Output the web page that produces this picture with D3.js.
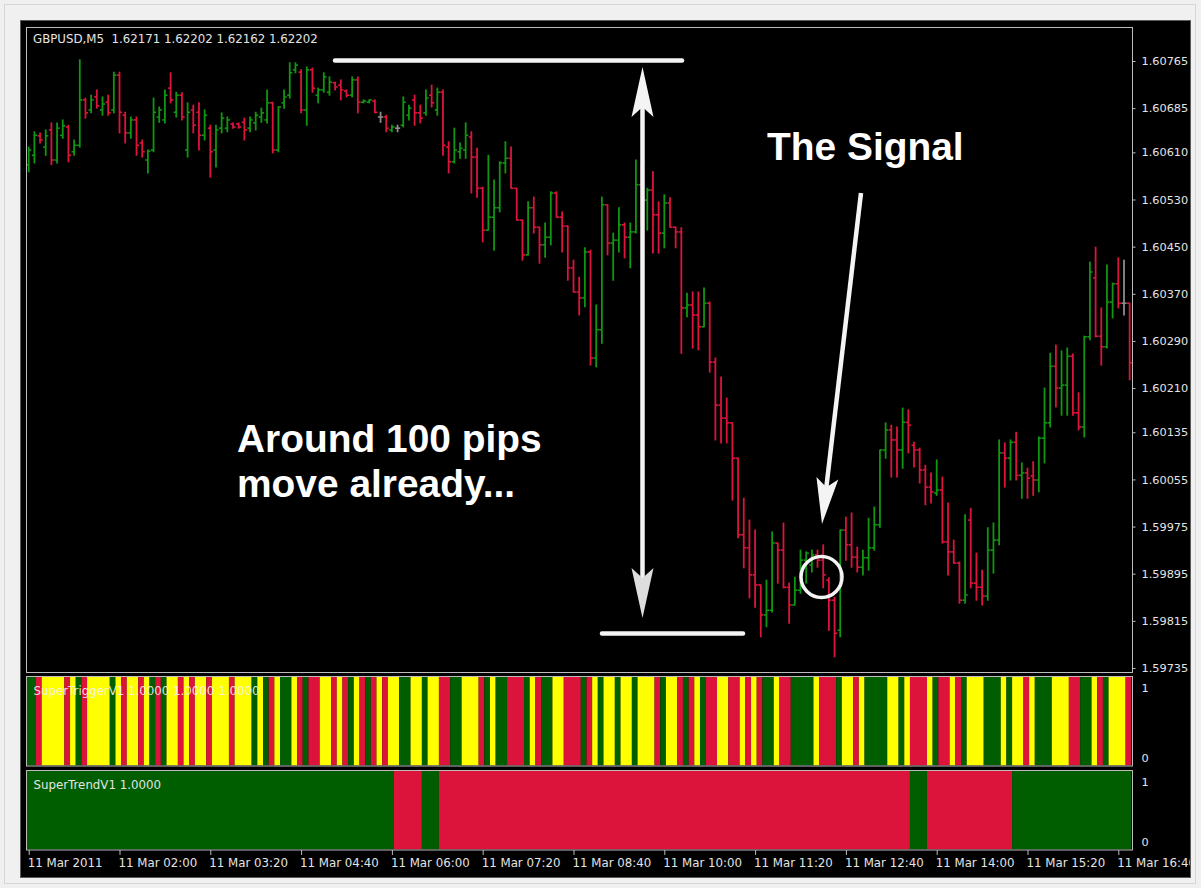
<!DOCTYPE html>
<html><head><meta charset="utf-8">
<script src="https://cdn.jsdelivr.net/npm/d3@7"></script>
<style>html,body{margin:0;padding:0;background:#f0f0f0;}svg{display:block;}</style>
</head><body>
<svg id="c" width="1201" height="888"></svg>
<script>
// ---------------- DATA ----------------
const symbolLabel = "GBPUSD,M5  1.62171 1.62202 1.62162 1.62202";
const triggerLabel = "SuperTriggerV1 1.0000 1.0000 1.0000";
const trendLabel = "SuperTrendV1 1.0000";
const firstBarTime = "2011-03-11T00:40:00";
const barMinutes = 5;

const openP = [
1.60589,1.60605,1.60638,1.60619,1.60648,1.60597,1.60639,1.60653,1.60611,1.60622,
1.60699,1.60682,1.60704,1.60682,1.60695,1.60682,1.60741,1.60673,1.60643,1.60665,
1.60626,1.60597,1.60614,1.60670,1.60665,1.60719,1.60678,1.60707,1.60614,1.60682,
1.60678,1.60639,1.60651,1.60614,1.60651,1.60651,1.60658,1.60658,1.60661,1.60651,
1.60660,1.60670,1.60665,1.60694,1.60614,1.60694,1.60707,1.60750,1.60746,1.60682,
1.60750,1.60707,1.60716,1.60712,1.60728,1.60724,1.60714,1.60707,1.60733,1.60695,
1.60695,1.60697,1.60670,1.60670,1.60648,1.60651,1.60656,1.60673,1.60699,1.60677,
1.60677,1.60707,1.60682,1.60712,1.60619,1.60594,1.60611,1.60614,1.60636,1.60602,
1.60549,1.60478,1.60500,1.60516,1.60592,1.60600,1.60549,1.60495,1.60436,1.60516,
1.60483,1.60453,1.60466,1.60541,1.60500,1.60485,1.60414,1.60373,1.60363,1.60441,
1.60261,1.60309,1.60521,1.60456,1.60461,1.60487,1.60466,1.60475,1.60555,1.60529,
1.60546,1.60504,1.60473,1.60524,1.60483,1.60475,1.60346,1.60351,1.60334,1.60314,
1.60354,1.60254,1.60181,1.60159,1.60151,1.60091,1.59961,1.59939,1.59893,1.59876,
1.59825,1.59833,1.59947,1.59935,1.59872,1.59842,1.59867,1.59918,1.59910,1.59927,
1.59918,1.59884,1.59850,1.59799,1.59969,1.59944,1.59923,1.59906,1.59922,1.59939,
1.59978,1.60105,1.60139,1.60122,1.60105,1.60152,1.60113,1.60105,1.60071,1.60042,
1.60032,1.60037,1.59949,1.59932,1.59913,1.59850,1.59986,1.59879,1.59872,1.59857,
1.59935,1.59952,1.60100,1.60091,1.60118,1.60062,1.60066,1.60061,1.60054,1.60125,
1.60151,1.60247,1.60210,1.60215,1.60264,1.60168,1.60144,1.60297,1.60397,1.60298,
1.60280,1.60356,1.60387,1.60354,1.60354];

const highP = [
1.60619,1.60645,1.60643,1.60648,1.60660,1.60660,1.60665,1.60656,1.60631,1.60767,
1.60702,1.60707,1.60716,1.60704,1.60707,1.60746,1.60746,1.60678,1.60670,1.60670,
1.60631,1.60614,1.60702,1.60687,1.60716,1.60745,1.60712,1.60711,1.60694,1.60690,
1.60694,1.60682,1.60656,1.60656,1.60677,1.60670,1.60660,1.60660,1.60668,1.60670,
1.60678,1.60685,1.60716,1.60695,1.60687,1.60716,1.60762,1.60762,1.60750,1.60755,
1.60753,1.60719,1.60745,1.60738,1.60729,1.60733,1.60716,1.60738,1.60738,1.60699,
1.60699,1.60699,1.60678,1.60673,1.60656,1.60656,1.60704,1.60690,1.60707,1.60690,
1.60716,1.60724,1.60719,1.60716,1.60628,1.60651,1.60626,1.60660,1.60645,1.60617,
1.60551,1.60605,1.60563,1.60594,1.60628,1.60619,1.60549,1.60495,1.60526,1.60534,
1.60483,1.60490,1.60543,1.60543,1.60509,1.60485,1.60427,1.60398,1.60448,1.60444,
1.60351,1.60534,1.60521,1.60473,1.60516,1.60490,1.60490,1.60597,1.60589,1.60549,
1.60577,1.60526,1.60538,1.60533,1.60483,1.60482,1.60371,1.60373,1.60373,1.60380,
1.60356,1.60261,1.60229,1.60193,1.60151,1.60091,1.60023,1.59986,1.59969,1.59876,
1.59884,1.59966,1.59947,1.59981,1.59879,1.59889,1.59935,1.59932,1.59935,1.59935,
1.59944,1.59888,1.59855,1.59969,1.59991,1.59998,1.59940,1.59935,1.59989,1.60008,
1.60105,1.60151,1.60147,1.60144,1.60176,1.60173,1.60118,1.60108,1.60079,1.60066,
1.60088,1.60059,1.60015,1.59952,1.59915,1.59995,1.60006,1.59930,1.59901,1.59973,
1.59981,1.60122,1.60117,1.60122,1.60135,1.60083,1.60074,1.60085,1.60127,1.60210,
1.60269,1.60283,1.60273,1.60278,1.60268,1.60202,1.60298,1.60424,1.60449,1.60346,
1.60419,1.60388,1.60431,1.60427,1.60354];

const lowP = [
1.60577,1.60592,1.60626,1.60605,1.60589,1.60592,1.60634,1.60594,1.60605,1.60619,
1.60668,1.60677,1.60685,1.60673,1.60673,1.60677,1.60643,1.60626,1.60634,1.60605,
1.60602,1.60575,1.60611,1.60661,1.60660,1.60694,1.60670,1.60665,1.60602,1.60643,
1.60614,1.60631,1.60568,1.60585,1.60643,1.60645,1.60651,1.60651,1.60631,1.60645,
1.60648,1.60661,1.60660,1.60609,1.60611,1.60685,1.60702,1.60745,1.60677,1.60656,
1.60712,1.60694,1.60712,1.60707,1.60716,1.60699,1.60704,1.60704,1.60677,1.60694,
1.60694,1.60677,1.60661,1.60645,1.60645,1.60645,1.60653,1.60665,1.60656,1.60660,
1.60673,1.60687,1.60673,1.60605,1.60575,1.60592,1.60600,1.60600,1.60541,1.60534,
1.60458,1.60478,1.60444,1.60509,1.60575,1.60549,1.60495,1.60427,1.60436,1.60473,
1.60422,1.60432,1.60453,1.60500,1.60441,1.60393,1.60373,1.60334,1.60348,1.60249,
1.60246,1.60286,1.60436,1.60393,1.60441,1.60431,1.60414,1.60473,1.60487,1.60478,
1.60439,1.60439,1.60448,1.60483,1.60448,1.60269,1.60331,1.60278,1.60275,1.60314,
1.60237,1.60122,1.60117,1.60117,1.60020,1.59956,1.59905,1.59854,1.59838,1.59788,
1.59805,1.59830,1.59879,1.59871,1.59811,1.59842,1.59862,1.59879,1.59898,1.59906,
1.59871,1.59799,1.59754,1.59788,1.59918,1.59906,1.59898,1.59893,1.59901,1.59935,
1.59974,1.60091,1.60059,1.60059,1.60074,1.60100,1.60076,1.60049,1.60012,1.60015,
1.60028,1.59947,1.59893,1.59913,1.59845,1.59845,1.59871,1.59850,1.59842,1.59850,
1.59896,1.59944,1.60042,1.60054,1.60054,1.60023,1.60023,1.60028,1.60034,1.60083,
1.60144,1.60178,1.60164,1.60164,1.60164,1.60139,1.60127,1.60292,1.60297,1.60249,
1.60278,1.60329,1.60346,1.60334,1.60224];

const closeP = [
1.60614,1.60639,1.60631,1.60638,1.60597,1.60651,1.60655,1.60605,1.60622,1.60699,
1.60677,1.60699,1.60689,1.60692,1.60677,1.60741,1.60678,1.60643,1.60665,1.60622,
1.60611,1.60612,1.60678,1.60682,1.60707,1.60699,1.60707,1.60670,1.60678,1.60656,
1.60639,1.60673,1.60611,1.60648,1.60668,1.60665,1.60653,1.60653,1.60648,1.60665,
1.60673,1.60677,1.60694,1.60614,1.60687,1.60704,1.60745,1.60758,1.60682,1.60750,
1.60719,1.60716,1.60738,1.60729,1.60721,1.60716,1.60707,1.60733,1.60695,1.60697,
1.60699,1.60678,1.60670,1.60651,1.60653,1.60651,1.60695,1.60685,1.60677,1.60668,
1.60702,1.60694,1.60712,1.60622,1.60594,1.60614,1.60617,1.60639,1.60602,1.60549,
1.60478,1.60500,1.60516,1.60592,1.60600,1.60549,1.60495,1.60436,1.60516,1.60483,
1.60453,1.60466,1.60541,1.60500,1.60485,1.60414,1.60373,1.60363,1.60441,1.60261,
1.60309,1.60521,1.60456,1.60461,1.60487,1.60466,1.60475,1.60555,1.60529,1.60546,
1.60504,1.60473,1.60524,1.60483,1.60475,1.60346,1.60351,1.60334,1.60314,1.60354,
1.60254,1.60181,1.60159,1.60151,1.60091,1.59961,1.59939,1.59893,1.59876,1.59825,
1.59833,1.59947,1.59935,1.59872,1.59842,1.59867,1.59918,1.59930,1.59927,1.59918,
1.59893,1.59850,1.59794,1.59969,1.59944,1.59923,1.59906,1.59922,1.59939,1.59978,
1.60105,1.60139,1.60122,1.60105,1.60152,1.60147,1.60105,1.60071,1.60042,1.60034,
1.60037,1.59949,1.59932,1.59913,1.59850,1.59859,1.59879,1.59872,1.59857,1.59935,
1.59952,1.60100,1.60091,1.60118,1.60062,1.60066,1.60057,1.60054,1.60125,1.60151,
1.60247,1.60210,1.60215,1.60264,1.60168,1.60144,1.60297,1.60407,1.60298,1.60280,
1.60356,1.60387,1.60354,1.60354,1.60253];

// SuperTrigger state per bar: G = green, Y = yellow, R = red
const triggerState = [
"G","G","R","Y","Y","Y","Y","R","Y","G", "R","Y","Y","Y","Y","G","Y","R","Y","Y",
"R","Y","G","R","G","Y","Y","R","Y","R", "Y","Y","R","Y","Y","Y","R","Y","Y","Y",
"G","Y","G","R","Y","G","G","Y","R","G", "R","R","Y","Y","R","Y","R","G","Y","R",
"G","R","Y","R","Y","Y","G","G","Y","Y", "G","Y","Y","R","R","G","G","Y","Y","Y",
"R","G","Y","G","G","R","R","R","G","Y", "R","G","G","Y","Y","R","R","R","G","R",
"Y","G","Y","Y","G","Y","Y","G","Y","Y", "Y","R","G","Y","Y","R","G","R","Y","G",
"R","R","Y","Y","R","R","Y","R","Y","R", "G","G","Y","R","R","G","G","G","G","Y",
"R","R","R","G","Y","Y","R","Y","G","G", "G","G","Y","Y","G","Y","R","R","R","Y",
"G","R","R","Y","R","G","Y","Y","Y","G", "G","G","Y","G","Y","Y","R","Y","G","G",
"G","Y","Y","Y","R","R","G","G","Y","R", "G","Y","Y","Y","R"];

// SuperTrend runs: first bar index of each run and its state
const trendRunStart = [0, 65, 70, 73, 156, 159, 174];
const trendRunState = ["G","R","G","R","G","R","G"];

const priceTicks = [1.60765,1.60685,1.60610,1.60530,1.60450,1.60370,1.60290,1.60210,1.60135,1.60055,1.59975,1.59895,1.59815,1.59735];
const timeLabels = ["11 Mar 2011","11 Mar 02:00","11 Mar 03:20","11 Mar 04:40","11 Mar 06:00","11 Mar 07:20","11 Mar 08:40","11 Mar 10:00","11 Mar 11:20","11 Mar 12:40","11 Mar 14:00","11 Mar 15:20","11 Mar 16:40"];
const labelEveryBars = 16;

// ---------------- DRAW ----------------
const svg = d3.select("#c");
const upCol = "#119611", dnCol = "#dc143c", dojiCol = "#8c8c8c";
const stCol = {G:"#005e00", Y:"#ffff00", R:"#dc143c"};
const frameCol = "#bcbcbc";
const txtCol = "#e4e4e4";
const FONT = "DejaVu Sans, Verdana, sans-serif";
const FS = "11.8px";

const PL = 26.5, PR = 1132.5;
const main = {t:27.5, b:672.5};
const p1 = {t:676.5, b:766};
const p2 = {t:770.5, b:850};

// page + window frame
svg.append("rect").attr("x",4.5).attr("y",4.5).attr("width",1191).attr("height",879)
  .attr("fill","#f0f0f0").attr("stroke","#d6d6d6");
svg.append("rect").attr("x",20.5).attr("y",20.5).attr("width",1170).attr("height",857)
  .attr("fill","#000").attr("stroke","#5a5a5a");

const n = openP.length;
const t0 = new Date(firstBarTime);
const barTime = d3.range(n).map(i => new Date(t0.getTime() + i*barMinutes*60000));
const x = d3.scaleTime()
  .domain([t0, new Date(t0.getTime() + 12*labelEveryBars*barMinutes*60000)])
  .range([28.7, 1118.3]);
const step = x(barTime[1]) - x(barTime[0]);
const y = d3.scaleLinear().domain([1.59735, 1.60765]).range([668, 61]);

const defs = svg.append("defs");
[["cm",main],["c1",p1],["c2",p2]].forEach(([id,p])=>{
  defs.append("clipPath").attr("id",id).append("rect")
    .attr("x",PL+0.5).attr("y",p.t+0.5).attr("width",PR-PL-1).attr("height",p.b-p.t-1);
});
defs.append("clipPath").attr("id","cw").append("rect")
  .attr("x",21).attr("y",21).attr("width",1169).attr("height",856);

// OHLC bars
const bars = svg.append("g").attr("clip-path","url(#cm)");
const data = d3.range(n).map(i=>({t:barTime[i],o:openP[i],h:highP[i],l:lowP[i],c:closeP[i]}));
const colOf = d => d.c > d.o ? upCol : (d.c < d.o ? dnCol : dojiCol);
const g = bars.selectAll("g.bar").data(data).join("g").attr("class","bar")
  .attr("stroke", colOf);
g.append("line").attr("x1",d=>x(d.t)).attr("x2",d=>x(d.t))
  .attr("y1",d=>y(d.h)-0.5).attr("y2",d=>y(d.l)+0.5).attr("stroke-width",1.8);
g.append("line").attr("x1",d=>x(d.t)-2.6).attr("x2",d=>x(d.t))
  .attr("y1",d=>y(d.o)).attr("y2",d=>y(d.o)).attr("stroke-width",1.6);
g.append("line").attr("x1",d=>x(d.t)).attr("x2",d=>x(d.t)+2.6)
  .attr("y1",d=>y(d.c)).attr("y2",d=>y(d.c)).attr("stroke-width",1.6);

// histograms drawn as merged runs of equal state
function runsOf(states){
  const out=[]; let s=0;
  for(let i=1;i<=states.length;i++){
    if(i===states.length || states[i]!==states[s]){ out.push({a:s,b:i-1,s:states[s]}); s=i; }
  }
  return out;
}
function drawHist(states, p, clip){
  svg.append("g").attr("clip-path",`url(#${clip})`).selectAll("rect")
    .data(runsOf(states)).join("rect")
    .attr("x",r=>x(barTime[r.a])-4.05)
    .attr("width",r=>x(barTime[r.b])-x(barTime[r.a])+step)
    .attr("y",p.t+0.5).attr("height",p.b-p.t-1)
    .attr("fill",r=>stCol[r.s]);
}
drawHist(triggerState, p1, "c1");
const trendState = d3.range(n).map(i => trendRunState[d3.bisectRight(trendRunStart, i)-1]);
drawHist(trendState, p2, "c2");

// panel frames
[main,p1,p2].forEach(p=>{
  svg.append("rect").attr("x",PL).attr("y",p.t).attr("width",PR-PL).attr("height",p.b-p.t)
    .attr("fill","none").attr("stroke",frameCol).attr("stroke-width",1);
});

// price axis
const ya = svg.append("g").attr("transform",`translate(${PR},0)`)
  .call(d3.axisRight(y).tickValues(priceTicks).tickFormat(d=>d.toFixed(5)).tickSize(3).tickPadding(6));
ya.select(".domain").remove();
ya.selectAll("line").attr("stroke",frameCol);
ya.selectAll("text").attr("fill",txtCol).attr("font-family",FONT).attr("font-size","11.3px");

// indicator scales (0..1)
const y1 = d3.scaleLinear().domain([0,1]).range([758,688]);
const y2 = d3.scaleLinear().domain([0,1]).range([842,782]);
[y1,y2].forEach(sc=>{
  const a = svg.append("g").attr("transform",`translate(${PR},0)`)
    .call(d3.axisRight(sc).tickValues([0,1]).tickFormat(d3.format("d")).tickSize(0).tickPadding(9));
  a.select(".domain").remove();
  a.selectAll("text").attr("fill",txtCol).attr("font-family",FONT).attr("font-size","11.3px");
});

// time axis (clipped to the black window area)
const tickTimes = timeLabels.map((_,k)=>new Date(t0.getTime()+k*labelEveryBars*barMinutes*60000));
const xa = svg.append("g").attr("clip-path","url(#cw)").append("g").attr("transform",`translate(0,${p2.b})`)
  .call(d3.axisBottom(x).tickValues(tickTimes).tickFormat((d,k)=>timeLabels[k]).tickSize(5).tickPadding(4));
xa.select(".domain").remove();
xa.selectAll("line").attr("stroke",frameCol);
xa.selectAll("text").attr("fill",txtCol).attr("font-family",FONT).attr("font-size",FS)
  .attr("text-anchor","start").attr("dx","-1.5");

// labels
svg.append("text").attr("x",33).attr("y",43).text(symbolLabel)
  .attr("fill",txtCol).attr("font-family",FONT).attr("font-size",FS)
  .style("white-space","pre");
svg.append("text").attr("x",33.5).attr("y",695).text(triggerLabel)
  .attr("fill","#f4f4f4").attr("fill-opacity",0.9).attr("font-family",FONT).attr("font-size",FS);
svg.append("text").attr("x",33.5).attr("y",789).text(trendLabel)
  .attr("fill",txtCol).attr("font-family",FONT).attr("font-size",FS);

// ---------------- annotations ----------------
const ann = svg.append("g").attr("clip-path","url(#cm)");
const white = "#f4f4f4";
ann.append("line").attr("x1",335).attr("x2",682).attr("y1",60.5).attr("y2",60.5)
  .attr("stroke",white).attr("stroke-width",4.5).attr("stroke-linecap","round");
ann.append("line").attr("x1",602).attr("x2",743).attr("y1",633.5).attr("y2",633.5)
  .attr("stroke",white).attr("stroke-width",4.5).attr("stroke-linecap","round");

function arrow(x1,y1,x2,y2,headLen,headHalf,notch,shaftW,fillHead){
  const dx=x2-x1, dy=y2-y1, L=Math.hypot(dx,dy), ux=dx/L, uy=dy/L, nx=-uy, ny=ux;
  const bx=x2-headLen*ux, by=y2-headLen*uy;
  const kx=x2-(headLen-notch)*ux, ky=y2-(headLen-notch)*uy;
  ann.append("line").attr("x1",x1).attr("y1",y1).attr("x2",kx).attr("y2",ky)
    .attr("stroke",white).attr("stroke-width",shaftW);
  ann.append("path").attr("d",`M${x2},${y2}L${bx+headHalf*nx},${by+headHalf*ny}L${kx},${ky}L${bx-headHalf*nx},${by-headHalf*ny}Z`)
    .attr("fill",fillHead||white);
}
arrow(642.5,340,642.5,67,50,11,10,4.5);
arrow(642.5,340,642.5,618,50,11,10,4.5,"#dedede");
arrow(861,193,822,524,46,11,9,4.5);
ann.append("circle").attr("cx",821.5).attr("cy",577).attr("r",20.5)
  .attr("fill","none").attr("stroke",white).attr("stroke-width",3.5);

const bigFont = "Liberation Sans, Arial, sans-serif";
const BFS = "38.9px";
ann.append("text").attr("x",767).attr("y",160).text("The Signal")
  .attr("fill","#ffffff").attr("font-family",bigFont).attr("font-weight","bold").attr("font-size",BFS);
ann.append("text").attr("x",237).attr("y",452).text("Around 100 pips")
  .attr("fill","#ffffff").attr("font-family",bigFont).attr("font-weight","bold").attr("font-size",BFS);
ann.append("text").attr("x",237).attr("y",497).text("move already...")
  .attr("fill","#ffffff").attr("font-family",bigFont).attr("font-weight","bold").attr("font-size",BFS);
</script>
</body></html>
